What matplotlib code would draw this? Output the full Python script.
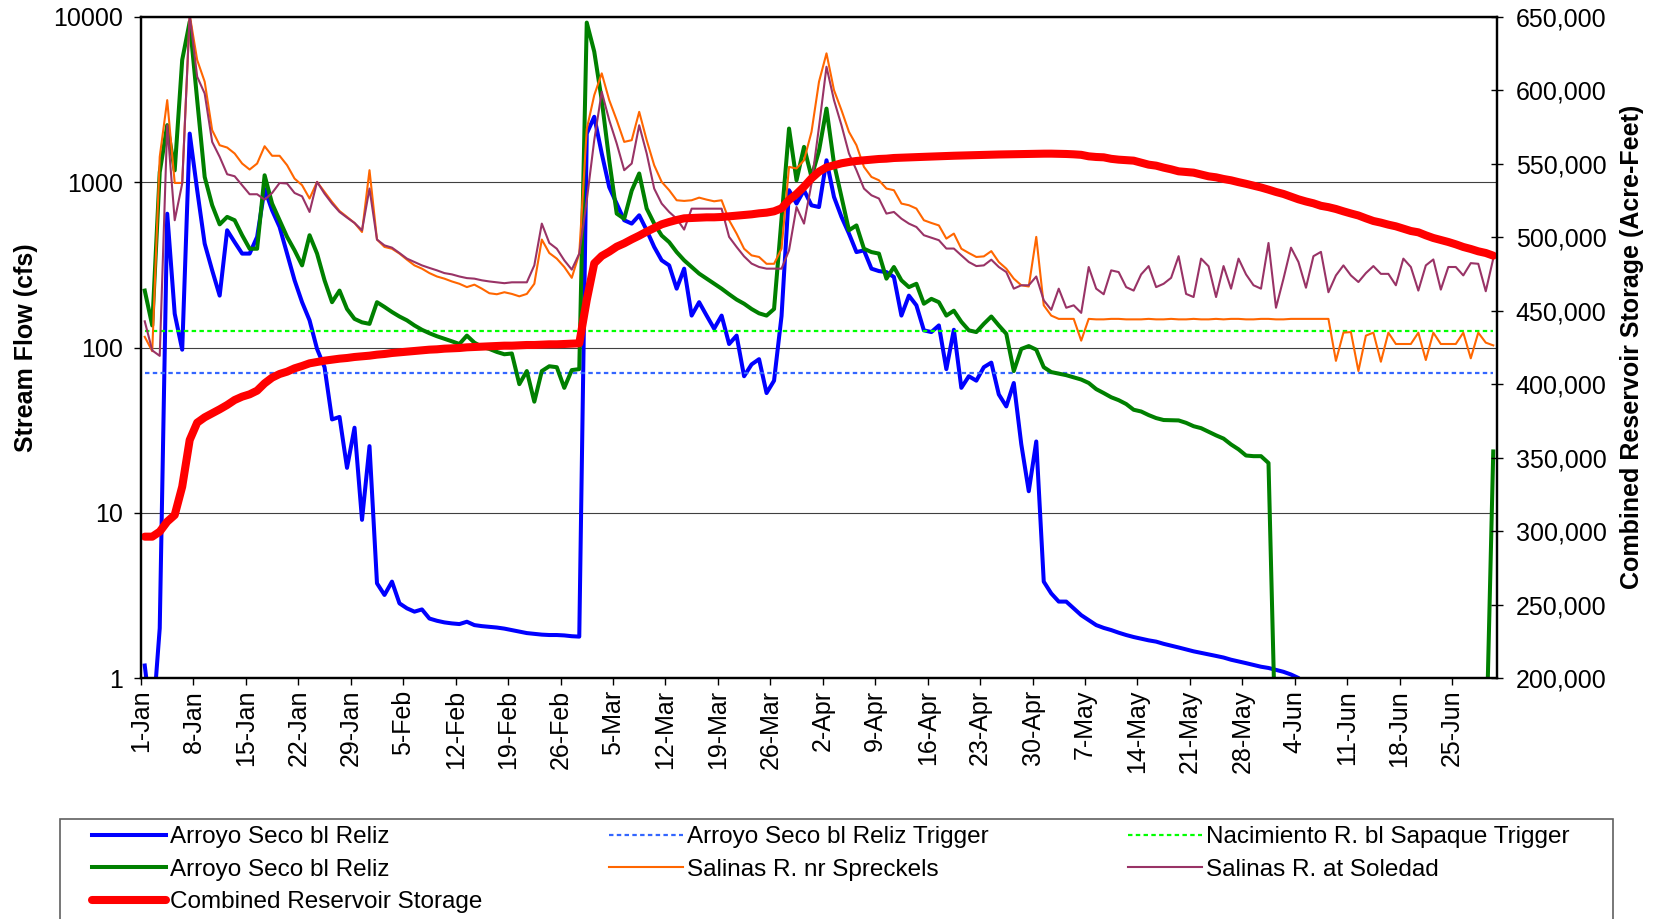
###############################################################################
#0. Import Modules
###############################################################################
import matplotlib
matplotlib.use('Agg')
import matplotlib.pyplot as plt
from matplotlib.patches import Rectangle
from matplotlib.ticker import NullLocator, FuncFormatter
import numpy as np

plt.rcParams['font.family'] = ['Liberation Sans', 'DejaVu Sans']

###############################################################################
#1. Data - daily values, 1-Jan to 30-Jun (one row per week)
###############################################################################
tickLabels = ['1-Jan', '8-Jan', '15-Jan', '22-Jan', '29-Jan', '5-Feb', '12-Feb',
              '19-Feb', '26-Feb', '5-Mar', '12-Mar', '19-Mar', '26-Mar', '2-Apr',
              '9-Apr', '16-Apr', '23-Apr', '30-Apr', '7-May', '14-May', '21-May',
              '28-May', '4-Jun', '11-Jun', '18-Jun', '25-Jun']

arroyoTrigger = 70      #cfs
nacimientoTrigger = 125 #cfs

#Arroyo Seco bl Reliz (blue)
arroyoBlue = [1.19, 0.5, 2.0, 645, 160, 97, 1970,
              895, 425, 293, 206, 512, 434, 370,
              370, 467, 911, 676, 536, 370, 255,
              188, 146, 98, 76, 36.7, 38, 18.7,
              32.7, 9.06, 25.3, 3.74, 3.18, 3.83, 2.83,
              2.64, 2.52, 2.6, 2.29, 2.22, 2.17, 2.14,
              2.12, 2.19, 2.09, 2.06, 2.04, 2.02, 1.99,
              1.95, 1.91, 1.87, 1.85, 1.83, 1.82, 1.82,
              1.81, 1.79, 1.78, 1970, 2490, 1493, 934,
              743, 589, 562, 631, 512, 406, 337,
              314, 227, 300, 156, 188, 156, 130,
              156, 105, 118, 67, 79, 85, 53,
              63, 155, 895, 743, 895, 725, 708,
              1358, 815, 617, 489, 378, 387, 300,
              290, 286, 267, 156, 206, 180, 127,
              124, 136, 74, 128, 57, 67, 63,
              76, 81, 52, 44, 61, 26, 13.5,
              27, 3.83, 3.25, 2.9, 2.9, 2.64, 2.4,
              2.24, 2.09, 2.01, 1.95, 1.88, 1.82, 1.77,
              1.73, 1.69, 1.66, 1.61, 1.57, 1.53, 1.49,
              1.45, 1.42, 1.39, 1.36, 1.33, 1.29, 1.26,
              1.23, 1.2, 1.17, 1.15, 1.12, 1.09, 1.05,
              1.0, 0.5, 0.5, 0.5, 0.5, 0.5, 0.5,
              0.5, 0.5, 0.5, 0.5, 0.5, 0.5, 0.5,
              0.5, 0.5, 0.5, 0.5, 0.5, 0.5, 0.5,
              0.5, 0.5, 0.5, 0.5, 0.5, 0.5]

#Arroyo Seco bl Reliz (green)
arroyoGreen = [221, 136, 1150, 2215, 1180, 5500, 9350,
               3140, 1077, 726, 556, 617, 589, 478,
               396, 396, 1102, 743, 589, 467, 387,
               314, 478, 370, 255, 188, 221, 171,
               149, 142, 139, 188, 176, 164, 154,
               146, 136, 128, 122, 117, 113, 109,
               105, 118, 107, 101, 98, 94, 91,
               92, 60, 72, 47, 72, 77, 76,
               57, 73, 74, 9250, 6170, 3140, 1358,
               646, 601, 890, 1130, 693, 562, 476,
               434, 378, 337, 307, 280, 261, 243,
               227, 210, 195, 184, 171, 161, 156,
               171, 600, 2113, 1028, 1637, 1075, 1550,
               2790, 1298, 813, 512, 548, 396, 378,
               370, 261, 307, 255, 232, 243, 184,
               197, 188, 156, 167, 143, 127, 124,
               139, 154, 136, 121, 72, 98, 102,
               97, 76, 71, 69.5, 68, 66, 64,
               61, 56, 53, 50, 48, 45.5, 42,
               41, 39, 37.4, 36.4, 36.3, 36.2, 35,
               33.4, 32.5, 30.9, 29.4, 28.1, 25.9, 24.2,
               22.2, 22, 22, 20, 0.3, 0.3, 0.3,
               0.3, 0.3, 0.3, 0.3, 0.3, 0.3, 0.3,
               0.3, 0.3, 0.3, 0.3, 0.3, 0.3, 0.3,
               0.3, 0.3, 0.3, 0.3, 0.3, 0.3, 0.3,
               0.3, 0.3, 0.3, 0.3, 0.3, 23.5]

#Salinas R. nr Spreckels
spreckels = [116, 95, 1425, 3140, 990, 990, 10300,
             5490, 4060, 2066, 1675, 1622, 1493, 1298,
             1194, 1298, 1652, 1446, 1446, 1268, 1052,
             960, 797, 1005, 873, 760, 670, 617,
             567, 500, 1183, 450, 406, 396, 370,
             340, 314, 300, 282, 269, 261, 251,
             243, 232, 240, 227, 213, 210, 216,
             211, 204, 211, 243, 450, 373, 345,
             307, 264, 370, 2100, 3365, 4560, 3140,
             2376, 1755, 1797, 2667, 1797, 1268, 1005,
             895, 778, 771, 778, 807, 785, 767,
             778, 589, 489, 396, 361, 353, 321,
             321, 396, 1239, 1211, 1359, 2018, 4057,
             6026, 3612, 2730, 2018, 1675, 1239, 1077,
             1028, 916, 895, 743, 726, 693, 589,
             567, 548, 456, 489, 396, 373, 353,
             356, 383, 329, 300, 261, 238, 234,
             467, 180, 156, 149, 149, 149, 110,
             149, 148, 148, 149, 149, 148, 148,
             148, 149, 148, 148, 149, 148, 148,
             149, 148, 148, 149, 148, 149, 149,
             148, 148, 149, 149, 148, 148, 149,
             149, 149, 149, 149, 149, 83, 123,
             124, 72, 118, 123, 82, 123, 105,
             105, 105, 123, 84, 123, 105, 105,
             105, 123, 86, 123, 107, 103]

#Salinas R. at Soledad
soledad = [144, 96, 89, 2213, 589, 982, 10300,
           4350, 3443, 1755, 1425, 1118, 1087, 960,
           846, 846, 785, 861, 990, 982, 861,
           822, 661, 1005, 853, 743, 661, 611,
           567, 512, 916, 450, 415, 402, 373,
           345, 329, 314, 303, 293, 282, 277,
           269, 263, 261, 255, 251, 248, 245,
           248, 248, 248, 314, 562, 429, 396,
           337, 296, 370, 776, 1800, 3524, 2376,
           1714, 1183, 1298, 2213, 1493, 916, 743,
           661, 602, 517, 692, 692, 692, 692,
           692, 467, 406, 356, 322, 307, 300,
           300, 300, 387, 708, 562, 982, 2163,
           5000, 3140, 2213, 1493, 1183, 916, 834,
           797, 646, 661, 602, 562, 536, 478,
           462, 446, 397, 397, 361, 329, 311,
           314, 340, 307, 286, 227, 238, 238,
           269, 193, 169, 227, 174, 180, 162,
           307, 227, 210, 293, 286, 232, 221,
           277, 311, 232, 243, 264, 357, 211,
           202, 345, 310, 202, 311, 227, 345,
           277, 238, 227, 429, 174, 261, 402,
           329, 230, 357, 379, 216, 273, 314,
           273, 249, 282, 311, 279, 279, 238,
           345, 307, 221, 314, 341, 224, 307,
           307, 273, 324, 321, 219, 345]

#Combined Reservoir Storage (acre-feet)
storage = [296220, 296220, 299630, 306440, 310970, 330260, 362030,
           373830, 377460, 380190, 382910, 385860, 389260, 391530,
           393120, 395620, 400610, 404470, 406960, 408550, 410820,
           412410, 414220, 415130, 416040, 416720, 417400, 417860,
           418540, 418990, 419440, 420130, 420580, 421260, 421720,
           422170, 422620, 423080, 423530, 423760, 424210, 424440,
           424660, 425120, 425340, 425570, 425800, 426030, 426250,
           426250, 426480, 426710, 426710, 426930, 427160, 427160,
           427390, 427620, 427840, 457340, 482300, 487300, 490250,
           493650, 495920, 498640, 501140, 503860, 506360, 508860,
           510440, 511810, 512940, 513170, 513400, 513620, 513620,
           513850, 514310, 514760, 515210, 515670, 516350, 516800,
           517710, 519750, 525420, 529510, 534500, 540170, 544710,
           547660, 549020, 550390, 551290, 551980, 552430, 552880,
           553340, 553560, 554020, 554200, 554400, 554600, 554800,
           555000, 555200, 555400, 555550, 555700, 555850, 556000,
           556150, 556300, 556400, 556500, 556600, 556700, 556800,
           556900, 556950, 556970, 556850, 556740, 556510, 556170,
           555150, 554700, 554470, 553450, 552880, 552540, 552200,
           550840, 549480, 548800, 547440, 546300, 544940, 544490,
           544030, 542790, 541540, 540860, 539720, 538820, 537570,
           536440, 535190, 533940, 532460, 530880, 529520, 527700,
           525880, 524410, 523160, 521460, 520550, 519300, 517710,
           516240, 514880, 512940, 511130, 510000, 508630, 507500,
           505910, 504320, 503410, 501370, 499550, 498190, 496830,
           495240, 493430, 492070, 490480, 489340, 487530]

###############################################################################
#2. Setup figure
###############################################################################
FS = 18
days = np.arange(len(arroyoBlue)) + 0.5 #Each day sits in the middle of its slot

fig = plt.figure(figsize=(16.56, 9.19), dpi=100)
ax = fig.add_axes([141/1656, 1-678/919, 1356/1656, 661/919])

#Primary axis - stream flow
lBlue, = ax.plot(days, arroyoBlue, color='#0000FF', lw=2.9, label='Arroyo Seco bl Reliz')
lTrigA, = ax.plot(days, np.full(len(days), arroyoTrigger), color='#3366FF', lw=1.6,
                  dashes=(2, 1.5), label='Arroyo Seco bl Reliz Trigger')
lTrigN, = ax.plot(days, np.full(len(days), nacimientoTrigger), color='#00FF00', lw=1.6,
                  dashes=(2, 1.5), label='Nacimiento R. bl Sapaque Trigger')
lGreen, = ax.plot(days, arroyoGreen, color='#008000', lw=2.9, label='Arroyo Seco bl Reliz')
lOrange, = ax.plot(days, spreckels, color='#FF6600', lw=1.5, label='Salinas R. nr Spreckels')
lPurple, = ax.plot(days, soledad, color='#993366', lw=1.5, label='Salinas R. at Soledad')

ax.set_yscale('log')
ax.set_ylim(1, 10000)
ax.set_xlim(0, len(days))
ax.set_yticks([1, 10, 100, 1000, 10000])
ax.set_yticklabels(['1', '10', '100', '1000', '10000'])
ax.yaxis.set_minor_locator(NullLocator())
ax.set_xticks(np.arange(0, 7*len(tickLabels), 7))
ax.set_xticklabels(tickLabels, rotation=90)
ax.grid(axis='y', color='#404040', lw=0.8)
ax.tick_params(axis='both', labelsize=FS, direction='out', length=5, width=1)
ax.tick_params(axis='y', pad=8)
for s in ax.spines.values():
    s.set_linewidth(1.6)
    s.set_color('black')

#Secondary axis - reservoir storage
ax2 = ax.twinx()
lRed, = ax2.plot(days, storage, color='#FF0000', lw=5.8, solid_capstyle='round',
                 label='Combined Reservoir Storage')
ax2.set_ylim(200000, 650000)
ax2.set_yticks(np.arange(200000, 650001, 50000))
ax2.yaxis.set_major_formatter(FuncFormatter(lambda v, p: '{:,}'.format(int(v))))
ax2.tick_params(axis='y', labelsize=FS, direction='inout', length=9, width=1, pad=9)
for s in ax2.spines.values():
    s.set_linewidth(1.6)

#Axis titles
fig.text(26/1656, 1-348/919, 'Stream Flow (cfs)', rotation=90, ha='center', va='center',
         fontsize=FS, fontweight='bold')
fig.text(1632/1656, 1-347/919, 'Combined Reservoir Storage (Acre-Feet)', rotation=90,
         ha='center', va='center', fontsize=FS, fontweight='bold')

###############################################################################
#3. Legend - three fixed columns inside one box (cut off at the bottom)
###############################################################################
columns = [[lBlue, lGreen, lRed], [lTrigA, lOrange], [lTrigN, lPurple]]
colX = [92, 609, 1128]
for handles, x in zip(columns, colX):
    fig.legend(handles=handles, loc='upper left', bbox_to_anchor=(x/1656, 1-826/919),
               frameon=False, fontsize=17.5, borderpad=0, borderaxespad=0,
               handlelength=3.05, handletextpad=0.15, labelspacing=0.44)

fig.patches.append(Rectangle((60/1656, -0.1), 1553/1656, 0.1+(1-818.5/919), fill=False,
                             edgecolor='#606060', lw=1.2, transform=fig.transFigure,
                             clip_on=False))

###############################################################################
#4. Save figure
###############################################################################
fig.savefig('out.png', dpi=100)
